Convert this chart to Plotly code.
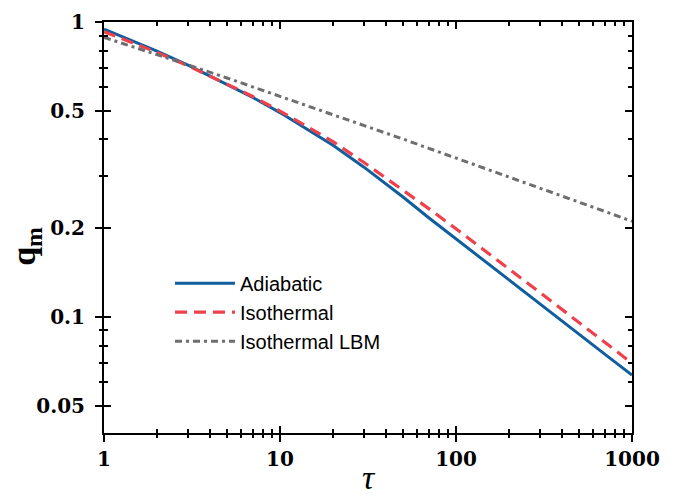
import plotly.graph_objects as go

tau = [1, 2, 3, 5, 7, 10, 20, 30, 50, 70, 100, 200, 300, 500, 700, 1000]
q_adiabatic = [0.946, 0.796, 0.714, 0.615, 0.555, 0.493, 0.382, 0.322, 0.255, 0.217,
               0.184, 0.133, 0.110, 0.0873, 0.0748, 0.0635]
q_isothermal = [0.927, 0.789, 0.711, 0.617, 0.559, 0.499, 0.393, 0.334, 0.270, 0.233,
                0.199, 0.146, 0.121, 0.0957, 0.0820, 0.0697]
q_lbm = [0.887, 0.776, 0.716, 0.646, 0.603, 0.560, 0.485, 0.446, 0.401, 0.373,
         0.346, 0.299, 0.274, 0.245, 0.228, 0.211]

x_major = [1, 10, 100, 1000]
x_major_text = ["1", "10", "100", "1000"]
x_minor = [2, 3, 4, 5, 6, 7, 8, 9, 20, 30, 40, 50, 60, 70, 80, 90,
           200, 300, 400, 500, 600, 700, 800, 900]
y_major = [0.05, 0.1, 0.2, 0.5, 1]
y_major_text = ["0.05", "0.1", "0.2", "0.5", "1"]
y_minor = [0.04, 0.06, 0.07, 0.08, 0.09, 0.3, 0.4, 0.6, 0.7, 0.8, 0.9]

BLUE = "#105e9e"
RED = "#ef414c"
GRAY = "#6e6e6e"

fig = go.Figure()
fig.add_trace(go.Scatter(x=tau, y=q_adiabatic, mode="lines", name="Adiabatic",
                         line=dict(color=BLUE, width=3),
                         legendgroup="a"))
fig.add_trace(go.Scatter(x=tau, y=q_isothermal, mode="lines", name="Isothermal",
                         line=dict(color=RED, width=3.2, dash="12px,7px"),
                         legendgroup="b"))
fig.add_trace(go.Scatter(x=tau, y=q_lbm, mode="lines", name="Isothermal LBM",
                         line=dict(color=GRAY, width=3, dash="7px,4px,3px,4px"),
                         legendgroup="c"))
# invisible trace to activate the overlay axes (outer tick halves)
fig.add_trace(go.Scatter(x=tau, y=q_adiabatic, mode="lines", xaxis="x2", yaxis="y2",
                         line=dict(width=0), opacity=0, showlegend=False,
                         hoverinfo="skip"))

xr = [0, 3]
yr = [-1.3935, 0]
tickfont = dict(family="DejaVu Serif", size=20, color="black", weight="bold")

fig.update_layout(
    width=682, height=496,
    margin=dict(l=104, r=50, t=22, b=63, autoexpand=False),
    paper_bgcolor="white", plot_bgcolor="white",
    showlegend=True,
    legend=dict(x=0.125, y=0.412, xanchor="left", yanchor="top",
                font=dict(family="Liberation Sans", size=20, color="black"),
                bgcolor="rgba(0,0,0,0)", tracegroupgap=0, itemwidth=60,
                traceorder="grouped"),
    xaxis=dict(type="log", range=xr, showline=True, linecolor="black", linewidth=2,
               mirror="ticks", ticks="inside", ticklen=7, tickwidth=2, tickcolor="black",
               tickmode="array", tickvals=x_major, ticktext=x_major_text,
               tickfont=tickfont, showgrid=False, zeroline=False, automargin=False,
               ticklabelstandoff=7,
               minor=dict(tickmode="array", tickvals=x_minor, ticks="inside",
                          ticklen=4, tickwidth=1.5, tickcolor="black", showgrid=False),
               title=dict(text="<i>τ</i>", font=dict(family="Liberation Serif", size=34,
                                                     color="black"), standoff=2)),
    yaxis=dict(type="log", range=yr, showline=True, linecolor="black", linewidth=2,
               mirror="ticks", ticks="inside", ticklen=7, tickwidth=2, tickcolor="black",
               tickmode="array", tickvals=y_major, ticktext=y_major_text,
               tickfont=tickfont, showgrid=False, zeroline=False, automargin=False,
               minor=dict(tickmode="array", tickvals=y_minor, ticks="inside",
                          ticklen=4, tickwidth=1.5, tickcolor="black", showgrid=False),
               ticklabelstandoff=13),
    xaxis2=dict(type="log", range=xr, overlaying="x", side="bottom", anchor="y2",
                showline=False, ticks="outside", ticklen=8, tickwidth=2, tickcolor="black",
                tickmode="array", tickvals=x_major, showticklabels=False,
                showgrid=False, zeroline=False, automargin=False,
                minor=dict(tickmode="array", tickvals=x_minor, ticks="outside",
                           ticklen=4, tickwidth=1.5, tickcolor="black", showgrid=False)),
    yaxis2=dict(type="log", range=yr, overlaying="y", side="left", anchor="x2",
                showline=False, ticks="outside", ticklen=8, tickwidth=2, tickcolor="black",
                tickmode="array", tickvals=y_major, showticklabels=False,
                showgrid=False, zeroline=False, automargin=False,
                minor=dict(tickmode="array", tickvals=y_minor, ticks="outside",
                           ticklen=4, tickwidth=1.5, tickcolor="black", showgrid=False)),
    annotations=[dict(text="<b>q</b><sub><b>m</b></sub>", textangle=-90,
                      xref="paper", yref="paper", x=-0.148, y=0.455,
                      xanchor="center", yanchor="middle",
                      showarrow=False,
                      font=dict(family="Liberation Serif", size=34, color="black"))],
)

fig.write_html("out.html")
